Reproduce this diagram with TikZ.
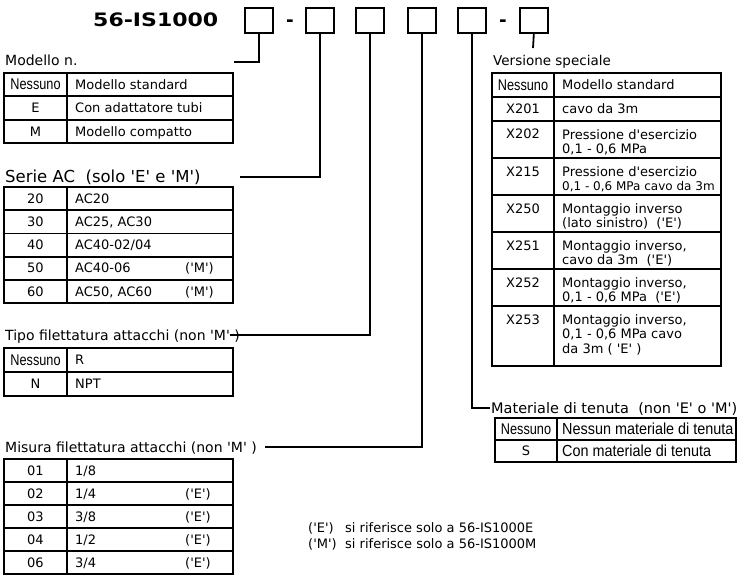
\documentclass[tikz,border=0pt]{standalone}
\usepackage{fontspec}
\usepackage{graphicx}
\setmainfont{DejaVu Sans}[Ligatures=TeXOff]
\newfontfamily\arialf{Liberation Sans}[Ligatures=TeXOff]
\newfontfamily\narrowf{Liberation Sans}[Ligatures=TeXOff,FakeStretch=0.82]
\newfontfamily\narrowg{Liberation Sans}[Ligatures=TeXOff,FakeStretch=0.9]
\newcommand\fs[2]{\fontsize{#1pt}{#2pt}\selectfont}
\begin{document}
\begin{tikzpicture}[x=1pt,y=-1pt,
  bx/.style={draw, line width=1.7pt, minimum width=28pt, minimum height=25pt, inner sep=0pt, anchor=north west},
  conn/.style={line width=1.8pt},
  grid/.style={line width=1.8pt},
  hdr/.style={anchor=base west, inner sep=0pt, font=\fs{14}{16}},
  key/.style={anchor=base, inner sep=0pt, font=\fs{13}{14.5}},
  desc/.style={anchor=base west, inner sep=0pt, font=\fs{13}{14.5}},
  mdesc/.style={anchor=north west, inner sep=0pt, align=left, font=\fs{13}{14.5}},
  nes/.style={anchor=base, inner sep=0pt, font=\narrowf\fs{15.5}{16}},
  adesc/.style={anchor=base west, inner sep=0pt, font=\narrowg\fs{16}{17}},
  tit/.style={anchor=base west, inner sep=0pt, font=\fs{18.5}{20}\bfseries}]
\useasboundingbox (0,0) rectangle (738,575);

% title and code boxes
\node[tit] (title) at (93,26.7) {\scalebox{1.19}[1]{56-IS1000}};
\node[bx] (b1) at (244,7) {};
\node[tit, anchor=base] (d1) at (290,27) {-};
\node[bx] (b2) at (305,7) {};
\node[bx] (b3) at (355,7) {};
\node[bx] (b4) at (407,7) {};
\node[bx] (b5) at (457,7) {};
\node[tit, anchor=base] (d2) at (503,27) {-};
\node[bx] (b6) at (519,7) {};

% headers
\node[hdr] (hMod) at (5,66) {Modello n.};
\node[hdr, font=\fs{16.5}{18}] (hSer) at (5,182.5) {Serie AC~ (solo 'E' e 'M')};
\node[hdr] (hTip) at (5,340) {Tipo filettatura attacchi (non 'M' )};
\node[hdr] (hMis) at (5,452) {Misura filettatura attacchi (non 'M' )};
\node[hdr, font=\fs{13.5}{15}] (hVer) at (493,65.5) {Versione speciale};
\node[hdr, font=\fs{14.5}{16}] (hMat) at (491,413) {Materiale di tenuta~ (non 'E' o 'M')};

% connectors
\coordinate (c1) at (234,62);
\coordinate (c2) at (240,177);
\coordinate (c3) at (230,335);
\coordinate (c4) at (265,447);
\coordinate (c5) at (490,408);
\coordinate (c6) at (533,48);
\draw[conn] (b1.south) |- (c1);
\draw[conn] (b2.south) |- (c2);
\draw[conn] (b3.south) |- (c3);
\draw[conn] (b4.south) |- (c4);
\draw[conn] (b5.south) |- (c5);
\draw[conn] (b6.south) -- (c6);

% Modello table
\draw[grid] (4,73) rectangle (233,143);
\draw[grid] (67,73) -- (67,143) (4,96.3) -- (233,96.3) (4,119.7) -- (233,119.7);
\node[nes] (m1k) at (35.5,90) {Nessuno};
\node[desc] (m1d) at (75,89.4) {Modello standard};
\node[key] (m2k) at (35.5,112.7) {E};
\node[desc] (m2d) at (75,112.7) {Con adattatore tubi};
\node[key] (m3k) at (35.5,136) {M};
\node[desc] (m3d) at (75,136) {Modello compatto};

% Serie table
\draw[grid] (4,187) rectangle (233,303);
\draw[grid] (67,187) -- (67,303) (4,210.2) -- (233,210.2) (4,233.4) -- (233,233.4)
  (4,256.6) -- (233,256.6) (4,279.8) -- (233,279.8);
\node[key] (s1k) at (35.5,203.3) {20};
\node[desc] (s1d) at (75,203.3) {AC20};
\node[key] (s2k) at (35.5,226.5) {30};
\node[desc] (s2d) at (75,226.5) {AC25, AC30};
\node[key] (s3k) at (35.5,249.7) {40};
\node[desc] (s3d) at (75,249.7) {AC40-02/04};
\node[key] (s4k) at (35.5,272.9) {50};
\node[desc] (s4d) at (75,272.9) {AC40-06};
\node[desc] (s4n) at (185,272.9) {('M')};
\node[key] (s5k) at (35.5,296.1) {60};
\node[desc] (s5d) at (75,296.1) {AC50, AC60};
\node[desc] (s5n) at (185,296.1) {('M')};

% Tipo table
\draw[grid] (4,348) rectangle (233,396);
\draw[grid] (67,348) -- (67,396) (4,372) -- (233,372);
\node[nes] (t1k) at (35.5,365.3) {Nessuno};
\node[desc] (t1d) at (75,364.7) {R};
\node[key] (t2k) at (35.5,388.7) {N};
\node[desc] (t2d) at (75,388.7) {NPT};

% Misura table
\draw[grid] (4,458.8) rectangle (233,573.8);
\draw[grid] (67,458.8) -- (67,573.8) (4,481.8) -- (233,481.8) (4,504.8) -- (233,504.8)
  (4,527.8) -- (233,527.8) (4,550.8) -- (233,550.8);
\node[key] (x1k) at (35.5,475) {01};
\node[desc] (x1d) at (75,475) {1/8};
\node[key] (x2k) at (35.5,498) {02};
\node[desc] (x2d) at (75,498) {1/4};
\node[desc] (x2n) at (185,498) {('E')};
\node[key] (x3k) at (35.5,521) {03};
\node[desc] (x3d) at (75,521) {3/8};
\node[desc] (x3n) at (185,521) {('E')};
\node[key] (x4k) at (35.5,544) {04};
\node[desc] (x4d) at (75,544) {1/2};
\node[desc] (x4n) at (185,544) {('E')};
\node[key] (x5k) at (35.5,567) {06};
\node[desc] (x5d) at (75,567) {3/4};
\node[desc] (x5n) at (185,567) {('E')};

% notes
\node[desc] (n1) at (308,532) {\makebox[37pt][l]{('E')}si riferisce solo a 56-IS1000E};
\node[desc] (n2) at (308,548) {\makebox[37pt][l]{('M')}si riferisce solo a 56-IS1000M};

% Versione table
\draw[grid] (492,73) rectangle (721,366);
\draw[grid] (554,73) -- (554,366);
\foreach \yy in {97,121,158,195,232,269,306} \draw[grid] (492,\yy) -- (721,\yy);
\node[nes] (v1k) at (523,90.3) {Nessuno};
\node[desc] (v1d) at (562,89.7) {Modello standard};
\node[key] (v2k) at (523,113.7) {X201};
\node[desc] (v2d) at (562,113.7) {cavo da 3m};
\node[key] (v3k) at (523,139) {X202};
\node[mdesc] (v3d) at (562,129.1) {Pressione d'esercizio\\0,1 - 0,6 MPa};
\node[key] (v4k) at (523,176) {X215};
\node[mdesc] (v4d) at (562,166.1) {Pressione d'esercizio\\{\fs{12}{14.5}0,1 - 0,6 MPa cavo da 3m}};
\node[key] (v5k) at (523,213) {X250};
\node[mdesc] (v5d) at (562,203.1) {Montaggio inverso\\(lato sinistro)~ ('E')};
\node[key] (v6k) at (523,250) {X251};
\node[mdesc] (v6d) at (562,240.1) {Montaggio inverso,\\cavo da 3m~ ('E')};
\node[key] (v7k) at (523,287) {X252};
\node[mdesc] (v7d) at (562,277.1) {Montaggio inverso,\\0,1 - 0,6 MPa~ ('E')};
\node[key] (v8k) at (523,324) {X253};
\node[mdesc] (v8d) at (562,314.1) {Montaggio inverso,\\0,1 - 0,6 MPa cavo\\da 3m ( 'E' )};

% Materiale table
\draw[grid] (495,418) rectangle (736,462);
\draw[grid] (557,418) -- (557,462) (495,440) -- (736,440);
\node[nes] (g1k) at (526,434.3) {Nessuno};
\node[adesc] (g1d) at (562,434.3) {Nessun materiale di tenuta};
\node[key] (g2k) at (526,455.7) {S};
\node[adesc] (g2d) at (562,456.3) {Con materiale di tenuta};
\end{tikzpicture}
\end{document}
